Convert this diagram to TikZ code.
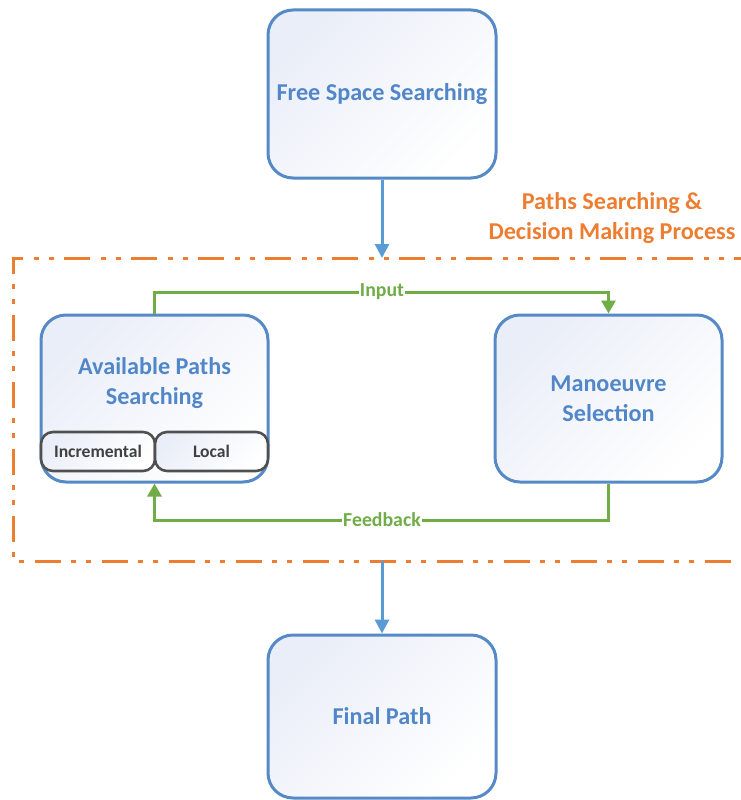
\documentclass[tikz,border=0pt]{standalone}
\usepackage{fontspec}
\setmainfont{Carlito}
\usetikzlibrary{arrows.meta}

\definecolor{boxline}{RGB}{86,138,198}
\definecolor{boxtext}{RGB}{81,135,200}
\definecolor{arrowblue}{RGB}{91,155,213}
\definecolor{fbgreen}{RGB}{112,173,71}
\definecolor{procorange}{RGB}{237,125,49}
\definecolor{subline}{RGB}{80,80,80}
\definecolor{subtext}{RGB}{64,64,64}
\definecolor{boxtint}{RGB}{234,238,248}

\tikzset{
  stagebox/.style={draw=boxline, line width=3pt, rounded corners=25pt,
    top color=boxtint, bottom color=white, shading angle=45,
    minimum width=#1, inner sep=0pt},
  stagebox/.default=228pt,
  subbox/.style={draw=subline, line width=2.6pt, rounded corners=12pt,
    top color=boxtint, bottom color=white, shading angle=45,
    minimum height=39pt, inner sep=0pt,
    font=\fontsize{17.6}{20}\selectfont\bfseries, text=subtext},
  stagetext/.style={font=\fontsize{24.2}{30}\selectfont\bfseries, text=boxtext, align=center},
  flowarrow/.style={draw=arrowblue, line width=3pt, -{Triangle[length=14pt,width=14pt]}},
  loopline/.style={draw=fbgreen, line width=3pt, -{Triangle[length=13pt,width=14pt]}},
  looplabel/.style={fill=white, inner sep=1pt, text=fbgreen,
    font=\fontsize{19.8}{22}\selectfont\bfseries},
  procframe/.style={draw=procorange, line width=3pt,
    dash pattern=on 26pt off 10pt on 5pt off 10pt on 5pt off 11pt},
}

\begin{document}
\begin{tikzpicture}[x=1pt, y=-1pt]
  \useasboundingbox (0,0) rectangle (741,800);
  \clip (0,0) rectangle (741,800);

  % process frame (runs past the right edge)
  \draw[procframe] (760,258) -- (13,258) -- (13,561) -- (760,561);
  \node[text=procorange, font=\fontsize{24.2}{30}\selectfont\bfseries, align=center]
    (proctitle) at (612,218) {Paths Searching \&\\Decision Making Process};

  % stages
  \node[stagebox, minimum height=168pt] (fs) at (382,94) {};
  \node[stagetext] (fstext) at (fs.center) {Free Space Searching};

  \node[stagebox=227pt, minimum height=167pt] (aps) at (154.5,398.5) {};
  \node[stagetext] (apstext) at (154.5,383) {Available Paths\\Searching};
  \node[subbox, minimum width=114pt] (inc) at (98,451.5) {Incremental};
  \node[subbox, minimum width=113pt] (loc) at (211.5,451.5) {Local};

  \node[stagebox=227pt, minimum height=167pt] (ms) at (608.5,398.5) {};
  \node[stagetext] (mstext) at (ms.center) {Manoeuvre\\Selection};

  \node[stagebox, minimum height=163pt] (fp) at (382,716.5) {};
  \node[stagetext] (fptext) at (fp.center) {Final Path};

  % frame entry / exit points
  \coordinate (framein) at (382,258);
  \coordinate (frameout) at (382,561);

  \draw[flowarrow] (fs.south) -- (framein);
  \draw[flowarrow] (frameout) -- (fp.north);

  % input / feedback loop
  \draw[loopline] (aps.north) |- (382,292) -| (ms.north);
  \node[looplabel] (inputlbl) at (382,292) {Input};
  \draw[loopline] (ms.south) |- (382,520) -| (aps.south);
  \node[looplabel] (fblbl) at (382,520) {Feedback};
\end{tikzpicture}
\end{document}
